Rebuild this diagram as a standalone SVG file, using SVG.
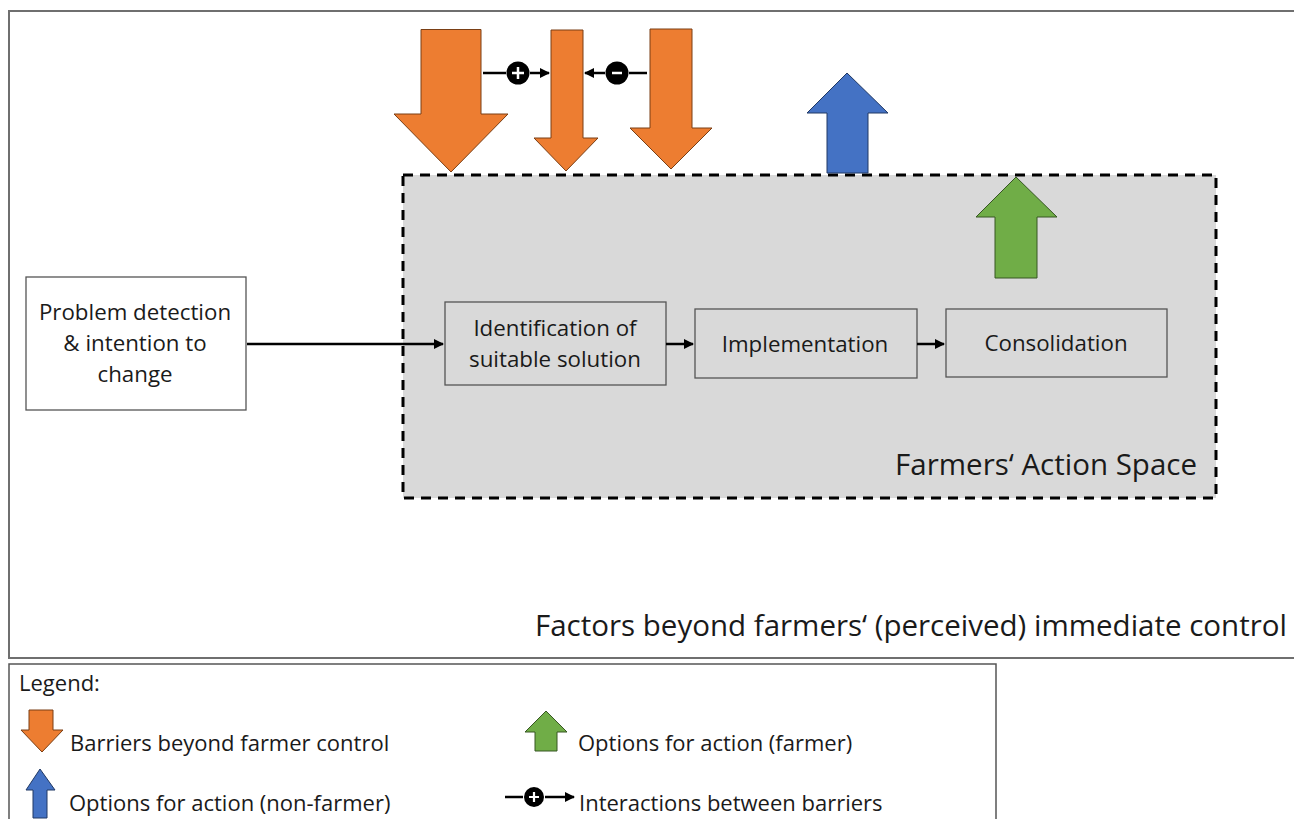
<svg xmlns="http://www.w3.org/2000/svg" width="1294" height="819" viewBox="0 0 1294 819">
<style>
text{font-family:"Open Sans","Liberation Sans",Arial,sans-serif;fill:#1a1a1a}
.box{fill:#fff;stroke:#555;stroke-width:1.3}
.gbox{fill:#d9d9d9;stroke:#555;stroke-width:1.3}
.lbl{font-size:22.3px;text-anchor:middle}
.leg{font-size:22px}
.or{fill:#ED7D31;stroke:#7a3f15;stroke-width:1}
.bl{fill:#4472C4;stroke:#203864;stroke-width:1}
.gr{fill:#70AD47;stroke:#375623;stroke-width:1}
.conn{stroke:#000;stroke-width:2.5;fill:none}
.ia{stroke:#000;stroke-width:2.5;fill:none}
</style>
<defs>
<marker id="ah" viewBox="0 0 10 10" refX="9" refY="5" markerWidth="4" markerHeight="4" orient="auto" markerUnits="strokeWidth">
<path d="M0,0 L10,5 L0,10 z" fill="#000"/>
</marker>
</defs>
<rect width="1294" height="819" fill="#fff"/>
<g id="outer">
<rect x="9" y="11" width="1300" height="647" fill="#fff" stroke="#6f6f6f" stroke-width="2"/>
<text x="535" y="636" font-size="29.5">Factors beyond farmers‘ (perceived) immediate control</text>
</g>
<g id="action-space">
<rect x="403" y="175" width="813" height="323" fill="#d9d9d9" stroke="#000" stroke-width="3" stroke-dasharray="10,7"/>
<text x="1197" y="475" font-size="29.5" text-anchor="end">Farmers‘ Action Space</text>
</g>
<g id="problem">
<rect class="box" x="26" y="277" width="220" height="133"/>
<text class="lbl" x="135" y="320">Problem detection</text>
<text class="lbl" x="135" y="351">&amp; intention to</text>
<text class="lbl" x="135" y="382">change</text>
</g>
<g id="identification">
<rect class="gbox" x="445" y="302" width="221" height="83"/>
<text class="lbl" x="555" y="336">Identification of</text>
<text class="lbl" x="555" y="367">suitable solution</text>
</g>
<g id="implementation">
<rect class="gbox" x="695" y="309" width="222" height="69"/>
<text class="lbl" x="805" y="352">Implementation</text>
</g>
<g id="consolidation">
<rect class="gbox" x="946" y="309" width="221" height="68"/>
<text class="lbl" x="1056" y="351">Consolidation</text>
</g>
<g id="barrier-1"><polygon class="or" points="421,29.5 481,29.5 481,114 508,114 451,172 394,114 421,114"/></g>
<g id="barrier-2"><polygon class="or" points="551,30 583,30 583,138 598,138 566,171 534,138 551,138"/></g>
<g id="barrier-3"><polygon class="or" points="650,29 692,29 692,128 712,128 671,169 630,128 650,128"/></g>
<g id="option-nonfarmer"><polygon class="bl" points="847,73 888,113 868,113 868,173 827,173 827,113 807,113"/></g>
<g id="option-farmer"><polygon class="gr" points="1016,177 1057,217 1037,217 1037,278 995,278 995,217 976,217"/></g>
<g id="connectors">
<line class="conn" x1="247" y1="344" x2="443" y2="344" marker-end="url(#ah)"/>
<line class="conn" x1="666" y1="344" x2="693" y2="344" marker-end="url(#ah)"/>
<line class="conn" x1="917" y1="344" x2="944" y2="344" marker-end="url(#ah)"/>
<g id="interaction-plus">
<line class="ia" x1="483" y1="73" x2="506" y2="73"/>
<line class="ia" x1="530" y1="73" x2="549" y2="73" marker-end="url(#ah)"/>
<circle cx="518" cy="73" r="11.5" fill="#000"/>
<path d="M512,73 H524 M518,67 V79" stroke="#fff" stroke-width="2.5"/>
</g>
<g id="interaction-minus">
<line class="ia" x1="647" y1="73" x2="629" y2="73"/>
<line class="ia" x1="605" y1="73" x2="585" y2="73" marker-end="url(#ah)"/>
<circle cx="617" cy="73" r="11.5" fill="#000"/>
<path d="M612,73 H622" stroke="#fff" stroke-width="2.5"/>
</g>
</g>
<g id="legend">
<rect x="9" y="664" width="987" height="170" fill="#fff" stroke="#555" stroke-width="1.5"/>
<text class="leg" x="19" y="691">Legend:</text>
<polygon class="or" points="29,710 53,710 53,730 63,730 42,752 21,730 29,730"/>
<text class="leg" x="70" y="751">Barriers beyond farmer control</text>
<polygon class="bl" points="40,769 55,790 47,790 47,818 33,818 33,790 26,790"/>
<text class="leg" x="69" y="811">Options for action (non-farmer)</text>
<polygon class="gr" points="546,711 567,732 557,732 557,751 535,751 535,732 525,732"/>
<text class="leg" x="578" y="751">Options for action (farmer)</text>
<line class="ia" x1="505" y1="797" x2="523" y2="797"/>
<line class="ia" x1="545" y1="797" x2="574" y2="797" marker-end="url(#ah)"/>
<circle cx="534" cy="797" r="10" fill="#000"/>
<path d="M529,797 H539 M534,792 V802" stroke="#fff" stroke-width="2.2"/>
<text class="leg" x="579" y="811">Interactions between barriers</text>
</g>
</svg>
